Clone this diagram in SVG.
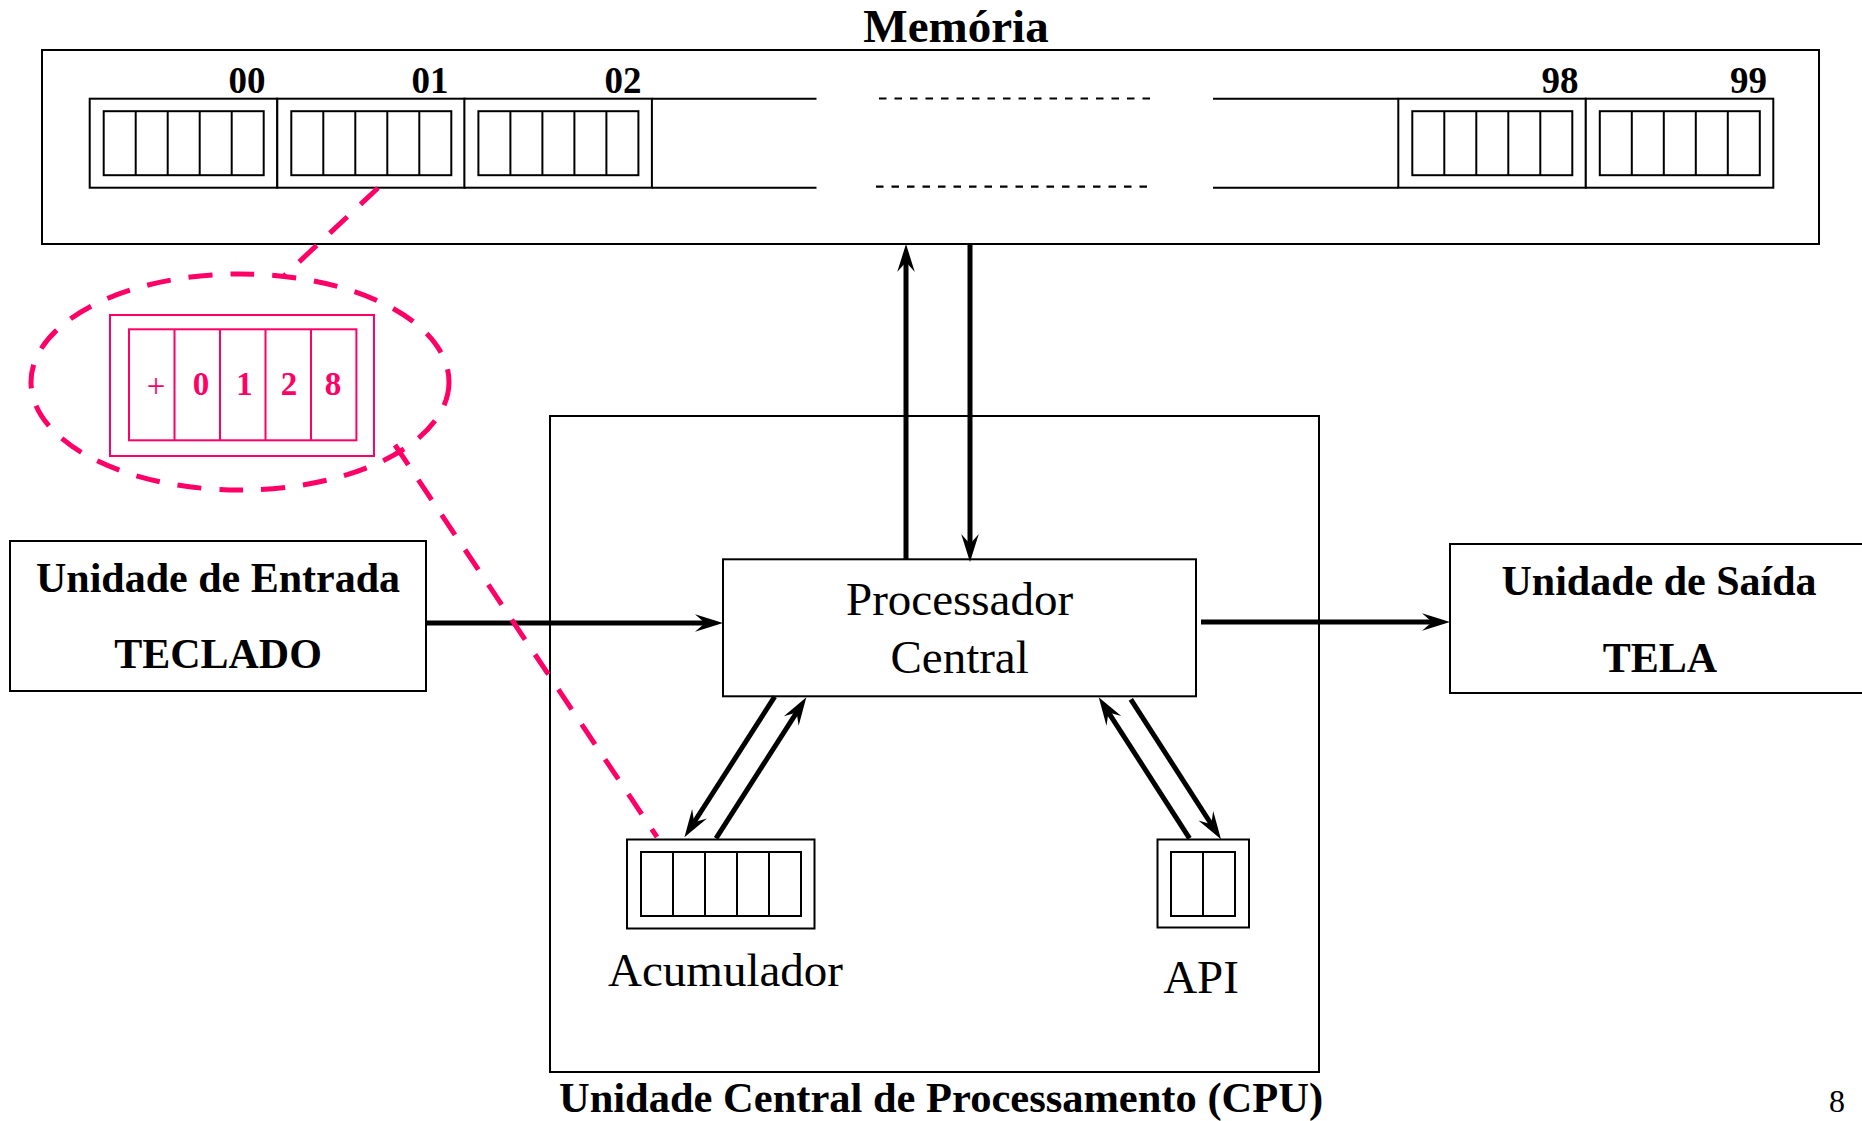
<svg xmlns="http://www.w3.org/2000/svg" xmlns:xlink="http://www.w3.org/1999/xlink" width="1862" height="1121" viewBox="0 0 1862 1121">
  <style>
    .box { fill: #fff; stroke: #000; stroke-width: 2; }
    .thin { fill: none; stroke: #000; stroke-width: 2; }
    .bus { fill: none; stroke: #000; stroke-width: 5; }
    .gap { fill: none; stroke: #000; stroke-width: 2.2; stroke-dasharray: 7.5 8; }
    .hl { fill: none; stroke: #ff0066; stroke-width: 2; }
    .hl-dash { fill: none; stroke: #ff0066; stroke-width: 5; stroke-dasharray: 24 18; }
    .serif { font-family: "Liberation Serif", "Times New Roman", serif; }
    .bold { font-weight: bold; }
    .mid { text-anchor: middle; }
    .end { text-anchor: end; }
  </style>
  <defs>
    <marker id="arrow" markerUnits="userSpaceOnUse" orient="auto" refX="0" refY="0" markerWidth="40" markerHeight="40" overflow="visible">
      <path d="M14,0 L-14,-8.8 L-4,0 L-14,8.8 Z" fill="#000"/>
    </marker>
    <!-- one memory word / register: outer frame and five digit cells -->
    <g id="word">
      <rect class="box" x="0" y="0" width="187.5" height="89"/>
      <rect class="thin" x="14" y="12.5" width="160" height="64"/>
      <path class="thin" d="M46,12.5 V76.5 M78,12.5 V76.5 M110,12.5 V76.5 M142,12.5 V76.5"/>
    </g>
  </defs>

  <rect width="1862" height="1121" fill="#fff"/>

  <!-- Memory -->
  <g id="memoria">
    <rect class="box" x="42" y="50" width="1777" height="194"/>
    <text class="serif bold mid" x="956" y="42" font-size="47">Memória</text>
    <use xlink:href="#word" x="89.7" y="98.7"/>
    <use xlink:href="#word" x="277.3" y="98.7"/>
    <use xlink:href="#word" x="464.4" y="98.7"/>
    <use xlink:href="#word" x="1398.3" y="98.7"/>
    <use xlink:href="#word" x="1585.8" y="98.7"/>
    <path class="thin" d="M652,98.7 H816.5 M652,187.7 H816.5 M1213,98.7 H1398.3 M1213,187.7 H1398.3"/>
    <path class="gap" d="M879,98.5 H1154 M876,186.7 H1151"/>
    <g class="serif bold end" font-size="37">
      <text x="265.5" y="92.5">00</text>
      <text x="448.5" y="92.5">01</text>
      <text x="641.5" y="92.5">02</text>
      <text x="1578.5" y="92.5">98</text>
      <text x="1767" y="92.5">99</text>
    </g>
  </g>

  <!-- Enlarged view of word 01 -->
  <g id="detalhe">
    <ellipse class="hl-dash" cx="240" cy="382" rx="209" ry="108"/>
    <rect class="hl" x="110" y="315" width="264" height="141" fill="#fff"/>
    <rect class="hl" x="129" y="329.3" width="227.4" height="111"/>
    <path class="hl" d="M174.5,329.3 V440.3 M220,329.3 V440.3 M265.5,329.3 V440.3 M311,329.3 V440.3"/>
    <g class="serif mid" font-size="33" fill="#ff0066">
      <text x="156" y="397">+</text>
      <text class="bold" x="201" y="395">0</text>
      <text class="bold" x="244.6" y="395">1</text>
      <text class="bold" x="289" y="395">2</text>
      <text class="bold" x="333" y="395">8</text>
    </g>
  </g>

  <!-- CPU -->
  <g id="cpu">
    <rect class="box" x="550" y="416" width="769" height="656"/>
    <text class="serif bold mid" x="941" y="1112" font-size="42.5">Unidade Central de Processamento (CPU)</text>
  </g>

  <!-- Input unit -->
  <g id="entrada">
    <rect class="box" x="10" y="541" width="416" height="150"/>
    <text class="serif bold mid" x="218" y="591.7" font-size="42">Unidade de Entrada</text>
    <text class="serif bold mid" x="218" y="668.3" font-size="42">TECLADO</text>
  </g>

  <!-- Output unit -->
  <g id="saida">
    <rect class="box" x="1450" y="544" width="418" height="149"/>
    <text class="serif bold mid" x="1659" y="595" font-size="42">Unidade de Saída</text>
    <text class="serif bold mid" x="1660" y="671.7" font-size="42">TELA</text>
  </g>

  <!-- Central processor -->
  <g id="processador">
    <rect class="box" x="723" y="559.3" width="473" height="137"/>
    <text class="serif mid" x="959.6" y="615" font-size="47">Processador</text>
    <text class="serif mid" x="959.6" y="673.3" font-size="47">Central</text>
  </g>

  <!-- Accumulator -->
  <g id="acumulador">
    <use xlink:href="#word" x="627" y="839.5"/>
    <text class="serif mid" x="725.5" y="986" font-size="47">Acumulador</text>
  </g>

  <!-- Instruction address register -->
  <g id="api">
    <rect class="box" x="1157.5" y="839.5" width="91.5" height="88"/>
    <rect class="thin" x="1171" y="852" width="64" height="64"/>
    <path class="thin" d="M1203,852 V916"/>
    <text class="serif mid" x="1201" y="992.7" font-size="47">API</text>
  </g>

  <!-- Connectors -->
  <g id="connectors">
    <line class="bus" x1="426" y1="623" x2="709" y2="623" marker-end="url(#arrow)"/>
    <line class="bus" x1="1201" y1="622" x2="1436" y2="622" marker-end="url(#arrow)"/>
    <line class="bus" x1="906" y1="560" x2="906" y2="258" marker-end="url(#arrow)"/>
    <line class="bus" x1="970" y1="244" x2="970" y2="548" marker-end="url(#arrow)"/>
    <line class="bus" x1="774.7" y1="696.7" x2="692" y2="825.5" marker-end="url(#arrow)"/>
    <line class="bus" x1="716" y1="838.3" x2="798.8" y2="709.1" marker-end="url(#arrow)"/>
    <line class="bus" x1="1189.5" y1="838.3" x2="1106.3" y2="709.1" marker-end="url(#arrow)"/>
    <line class="bus" x1="1130.8" y1="699.3" x2="1213.4" y2="827.5" marker-end="url(#arrow)"/>
    <!-- highlight leaders -->
    <line class="hl-dash" x1="378" y1="188" x2="284" y2="276"/>
    <line class="hl-dash" x1="395" y1="445" x2="657" y2="837"/>
  </g>

  <text id="pagina" class="serif mid" x="1837" y="1112" font-size="32">8</text>
</svg>
